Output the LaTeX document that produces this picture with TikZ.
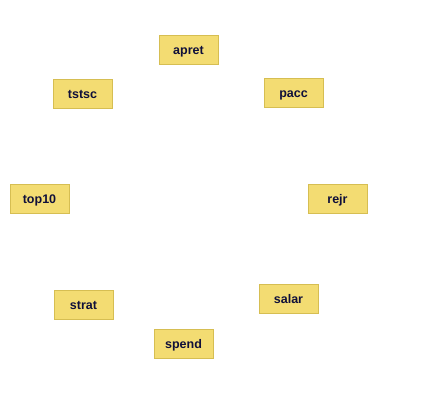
\documentclass[tikz,border=0pt]{standalone}
\usepackage{fontspec}
\setmainfont{Liberation Sans}
\usepackage{xcolor}
\usepackage{tikz}
\usetikzlibrary{positioning}

\definecolor{boxfill}{HTML}{F3DC72}
\definecolor{boxline}{HTML}{D6BE52}
\definecolor{boxtext}{HTML}{10103A}

\tikzset{
    varbox/.style={draw=boxline, fill=boxfill, line width=0.8pt,
        minimum width=59pt, minimum height=29pt, inner sep=0pt,
        text height=9pt, text depth=0pt,
        text=boxtext, font=\fontsize{12.5}{14}\selectfont\bfseries}
}

\begin{document}
\begin{tikzpicture}[x=1pt, y=-1pt]
    \useasboundingbox[fill=white] (0,0) rectangle (423,408);
    % upper ring
    \node[varbox] (apret) at (188.5,49.5) {apret};
    \node[varbox] (pacc) at (293.5,92.5) {pacc};
    \node[varbox] (tstsc) at (82.5,93.5) {tstsc};
    % middle
    \node[varbox] (top10) at (39.5,198.5) {top10};
    \node[varbox] (rejr) at (337.5,198.5) {rejr};
    % lower ring
    \node[varbox] (strat) at (83.5,304.5) {strat};
    \node[varbox] (salar) at (288.5,298.5) {salar};
    \node[varbox] (spend) at (183.5,343.5) {spend};
\end{tikzpicture}
\end{document}
